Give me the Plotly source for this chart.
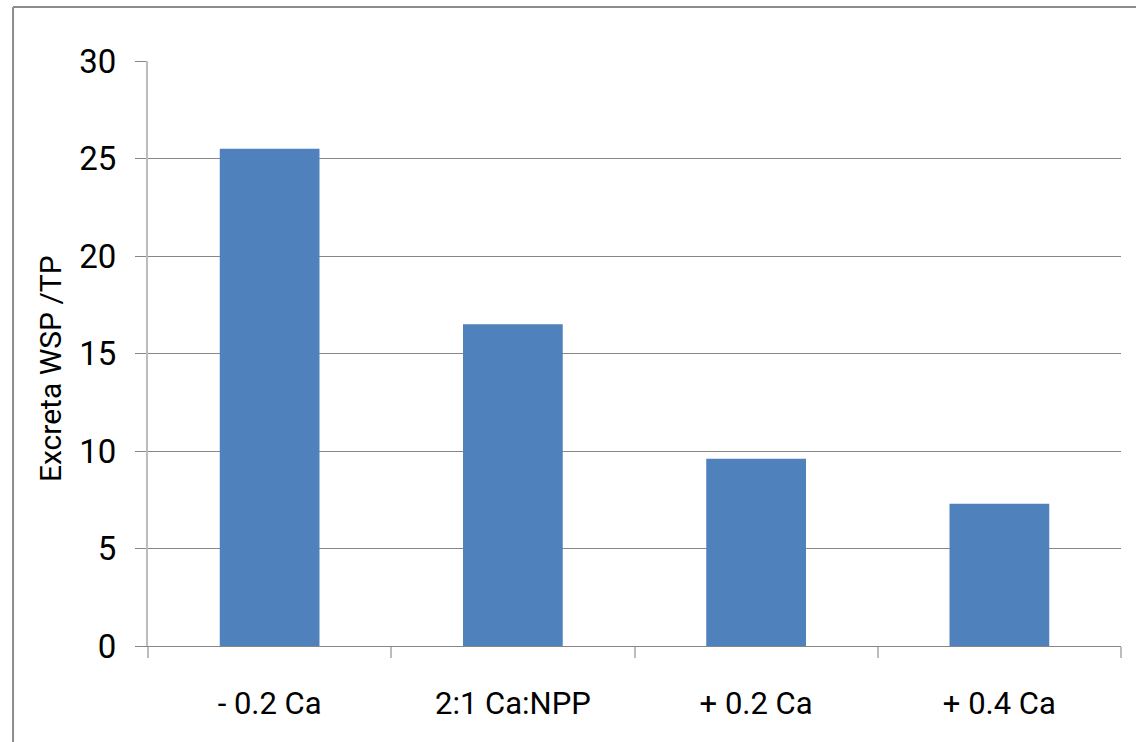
import plotly.graph_objects as go

# Excreta water-soluble P as a share of total P, by dietary Ca level
treatments = ["- 0.2 Ca", "2:1 Ca:NPP", "+ 0.2 Ca", "+ 0.4 Ca"]
wsp_tp = [25.5, 16.5, 9.6, 7.3]
y_ticks = [0, 5, 10, 15, 20, 25, 30]

FONT = "Roboto, Liberation Sans, sans-serif"
GRID = "#878787"
AXIS = "#bdbdbd"

fig = go.Figure(
    go.Bar(
        x=treatments,
        y=wsp_tp,
        marker=dict(color="#4f81bd", line=dict(width=0)),
    )
)

fig.update_layout(
    width=1136,
    height=742,
    margin=dict(l=148, r=15, t=61, b=96, autoexpand=False),
    paper_bgcolor="white",
    plot_bgcolor="white",
    bargap=0.59,
    showlegend=False,
    font=dict(family=FONT, color="#000000", size=31),
    shapes=[
        # outer frame (top and left edges)
        dict(type="line", xref="paper", yref="paper",
             x0=-0.1387, x1=1.05, y0=1.0923, y1=1.0923,
             line=dict(color="#8c8c8c", width=2)),
        dict(type="line", xref="paper", yref="paper",
             x0=-0.1387, x1=-0.1387, y0=1.0923, y1=-0.2,
             line=dict(color="#8c8c8c", width=2)),
    ],
    annotations=[
        dict(text="Excreta WSP /TP", textangle=-90,
             xref="paper", yref="paper", x=-0.1007, y=0.4735,
             xanchor="center", yanchor="middle", showarrow=False,
             font=dict(family=FONT, size=30, color="#000000")),
    ],
)

fig.update_xaxes(
    type="category",
    showgrid=False,
    showline=True,
    linecolor=GRID,
    linewidth=1,
    ticks="outside",
    tickson="boundaries",
    ticklen=11,
    tickcolor=AXIS,
    tickwidth=2,
    ticklabelstandoff=30,
    tickfont=dict(family=FONT, size=31),
)

fig.update_yaxes(
    range=[0, 30],
    tickvals=y_ticks,
    showgrid=True,
    gridcolor=GRID,
    gridwidth=1,
    zeroline=False,
    showline=True,
    linecolor=AXIS,
    linewidth=2,
    ticks="outside",
    ticklen=11,
    tickcolor=GRID,
    tickwidth=1,
    ticklabelstandoff=12,
    tickfont=dict(family=FONT, size=33),
)

fig.write_html("out.html")
